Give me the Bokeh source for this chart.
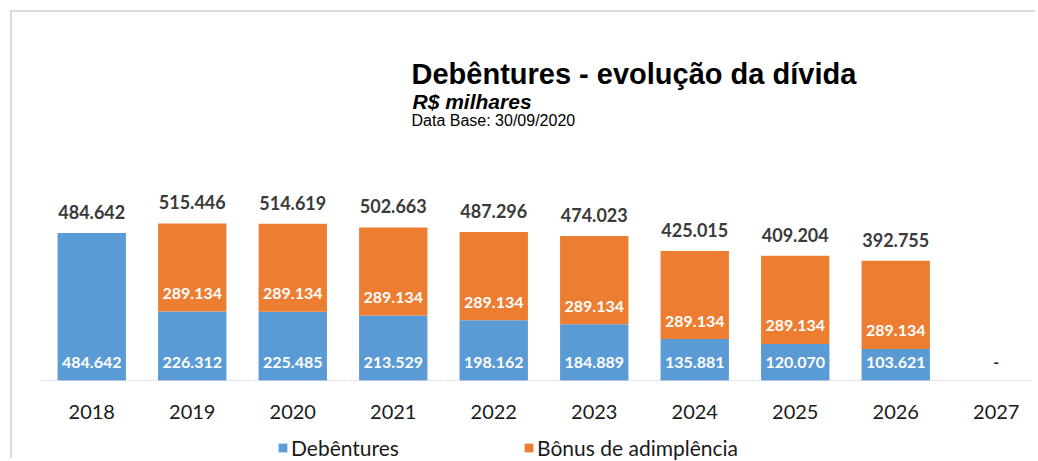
from bokeh.plotting import figure
from bokeh.models import (ColumnDataSource, Range1d, FixedTicker, LabelSet, Label,
                          Legend, LegendItem)
from bokeh.core.properties import value
from bokeh.embed import file_html
from bokeh.resources import INLINE

# ---------------- data ----------------
years = ["2018", "2019", "2020", "2021", "2022", "2023", "2024", "2025", "2026", "2027"]
debentures = [484642, 226312, 225485, 213529, 198162, 184889, 135881, 120070, 103621, 0]
bonus = [0, 289134, 289134, 289134, 289134, 289134, 289134, 289134, 289134, 0]

title_text = "Debêntures - evolução da dívida"
subtitle_text = "R$ milhares"
database_text = "Data Base: 30/09/2020"
series_names = ["Debêntures", "Bônus de adimplência"]

BLUE = "#5B9BD5"
ORANGE = "#ED7D31"


def fmt(v):
    return f"{v:,}".replace(",", ".")


totals = [d + b for d, b in zip(debentures, bonus)]
xs = list(range(len(years)))

src = ColumnDataSource(dict(
    x=xs,
    deb=debentures,
    bon=bonus,
    total=totals,
    total_lbl=[fmt(t) if t > 0 else "" for t in totals],
    deb_lbl=[fmt(d) if d > 0 else "-" for d in debentures],
    deb_col=["white" if d > 0 else "#262626" for d in debentures],
    bon_lbl=[fmt(b) if b > 0 else "" for b in bonus],
))

# ---------------- layout constants (canvas pixels) ----------------
W, H = 1025, 448
FRAME_LEFT = 29
FRAME_RIGHT = 1018
BASELINE_PX = 368            # canvas px of value 0
PX_PER_X = 100.5
PX_PER_Y = 0.3046 / 1000.0
x_end = -0.5 + (FRAME_RIGHT - FRAME_LEFT) / PX_PER_X
y_top = BASELINE_PX / PX_PER_Y
y_bot = -(H - BASELINE_PX) / PX_PER_Y

p = figure(width=W, height=H, output_backend="svg", toolbar_location=None,
           x_range=Range1d(-0.5, x_end), y_range=Range1d(y_bot, y_top),
           y_axis_location=None, min_border_left=FRAME_LEFT,
           min_border_right=W - FRAME_RIGHT, min_border_top=0, min_border_bottom=0)
p.styles = {"margin-left": "10px", "margin-top": "10px",
            "border-top": "2px solid #dcdcdc", "border-left": "2px solid #dcdcdc"}
p.outline_line_color = None
p.xgrid.visible = False
p.ygrid.visible = False
p.background_fill_color = "white"
p.border_fill_color = "white"

rs = p.vbar_stack(["deb", "bon"], x="x", width=0.68, color=[BLUE, ORANGE],
                  line_color=None, source=src)

# axis, drawn at value 0
ax = p.xaxis[0]
ax.fixed_location = 0
ax.ticker = FixedTicker(ticks=xs)
ax.major_label_overrides = {i: y for i, y in zip(xs, years)}
ax.major_tick_line_color = None
ax.minor_tick_line_color = None
ax.axis_line_color = "#b4b4c8"
ax.axis_line_dash = "1 2"
ax.axis_line_width = 1
ax.major_label_text_font = "Lato"
ax.major_label_text_font_size = "20px"
ax.major_label_text_color = "#1a1a1a"
ax.major_label_standoff = 18

# value labels
p.add_layout(LabelSet(x="x", y="total", text="total_lbl", source=src, y_offset=21,
                      text_align="center", text_baseline="middle",
                      text_font=value("Lato"), text_font_style="bold",
                      text_font_size="18px", text_color="#3a3a3a"))
p.add_layout(LabelSet(x="x", y=0, text="deb_lbl", source=src, y_offset=18,
                      text_align="center", text_baseline="middle",
                      text_font=value("Lato"), text_font_style="bold",
                      text_font_size="16px", text_color="deb_col"))
p.add_layout(LabelSet(x="x", y="deb", text="bon_lbl", source=src, y_offset=18,
                      text_align="center", text_baseline="middle",
                      text_font=value("Lato"), text_font_style="bold",
                      text_font_size="16px", text_color="white"))


# titles (canvas pixel -> data conversion)
def dx(px):
    return -0.5 + (px - FRAME_LEFT) / PX_PER_X


def dy(px):
    return (BASELINE_PX - px) / PX_PER_Y


p.add_layout(Label(x=dx(399), y=dy(61), text=title_text, text_font="Liberation Sans",
                   text_font_style="bold", text_font_size="29px", text_color="black",
                   text_baseline="alphabetic"))
p.add_layout(Label(x=dx(400), y=dy(89), text=subtitle_text, text_font="Liberation Sans",
                   text_font_style="bold italic", text_font_size="21px", text_color="black",
                   text_baseline="alphabetic"))
p.add_layout(Label(x=dx(399), y=dy(108), text=database_text, text_font="Liberation Sans",
                   text_font_size="16px", text_color="black",
                   text_baseline="alphabetic"))

legend = Legend(items=[LegendItem(label=series_names[0], renderers=[rs[0]]),
                       LegendItem(label=series_names[1], renderers=[rs[1]])],
                orientation="horizontal", location=(236, 0),
                padding=0, margin=0, spacing=0, border_line_color=None,
                background_fill_alpha=0, glyph_width=11, glyph_height=11,
                label_standoff=3, label_width=232,
                label_text_font="Lato", label_text_font_size="21px",
                label_text_color="#1a1a1a")
p.add_layout(legend)

open("out.html", "w").write(file_html(p, INLINE))
